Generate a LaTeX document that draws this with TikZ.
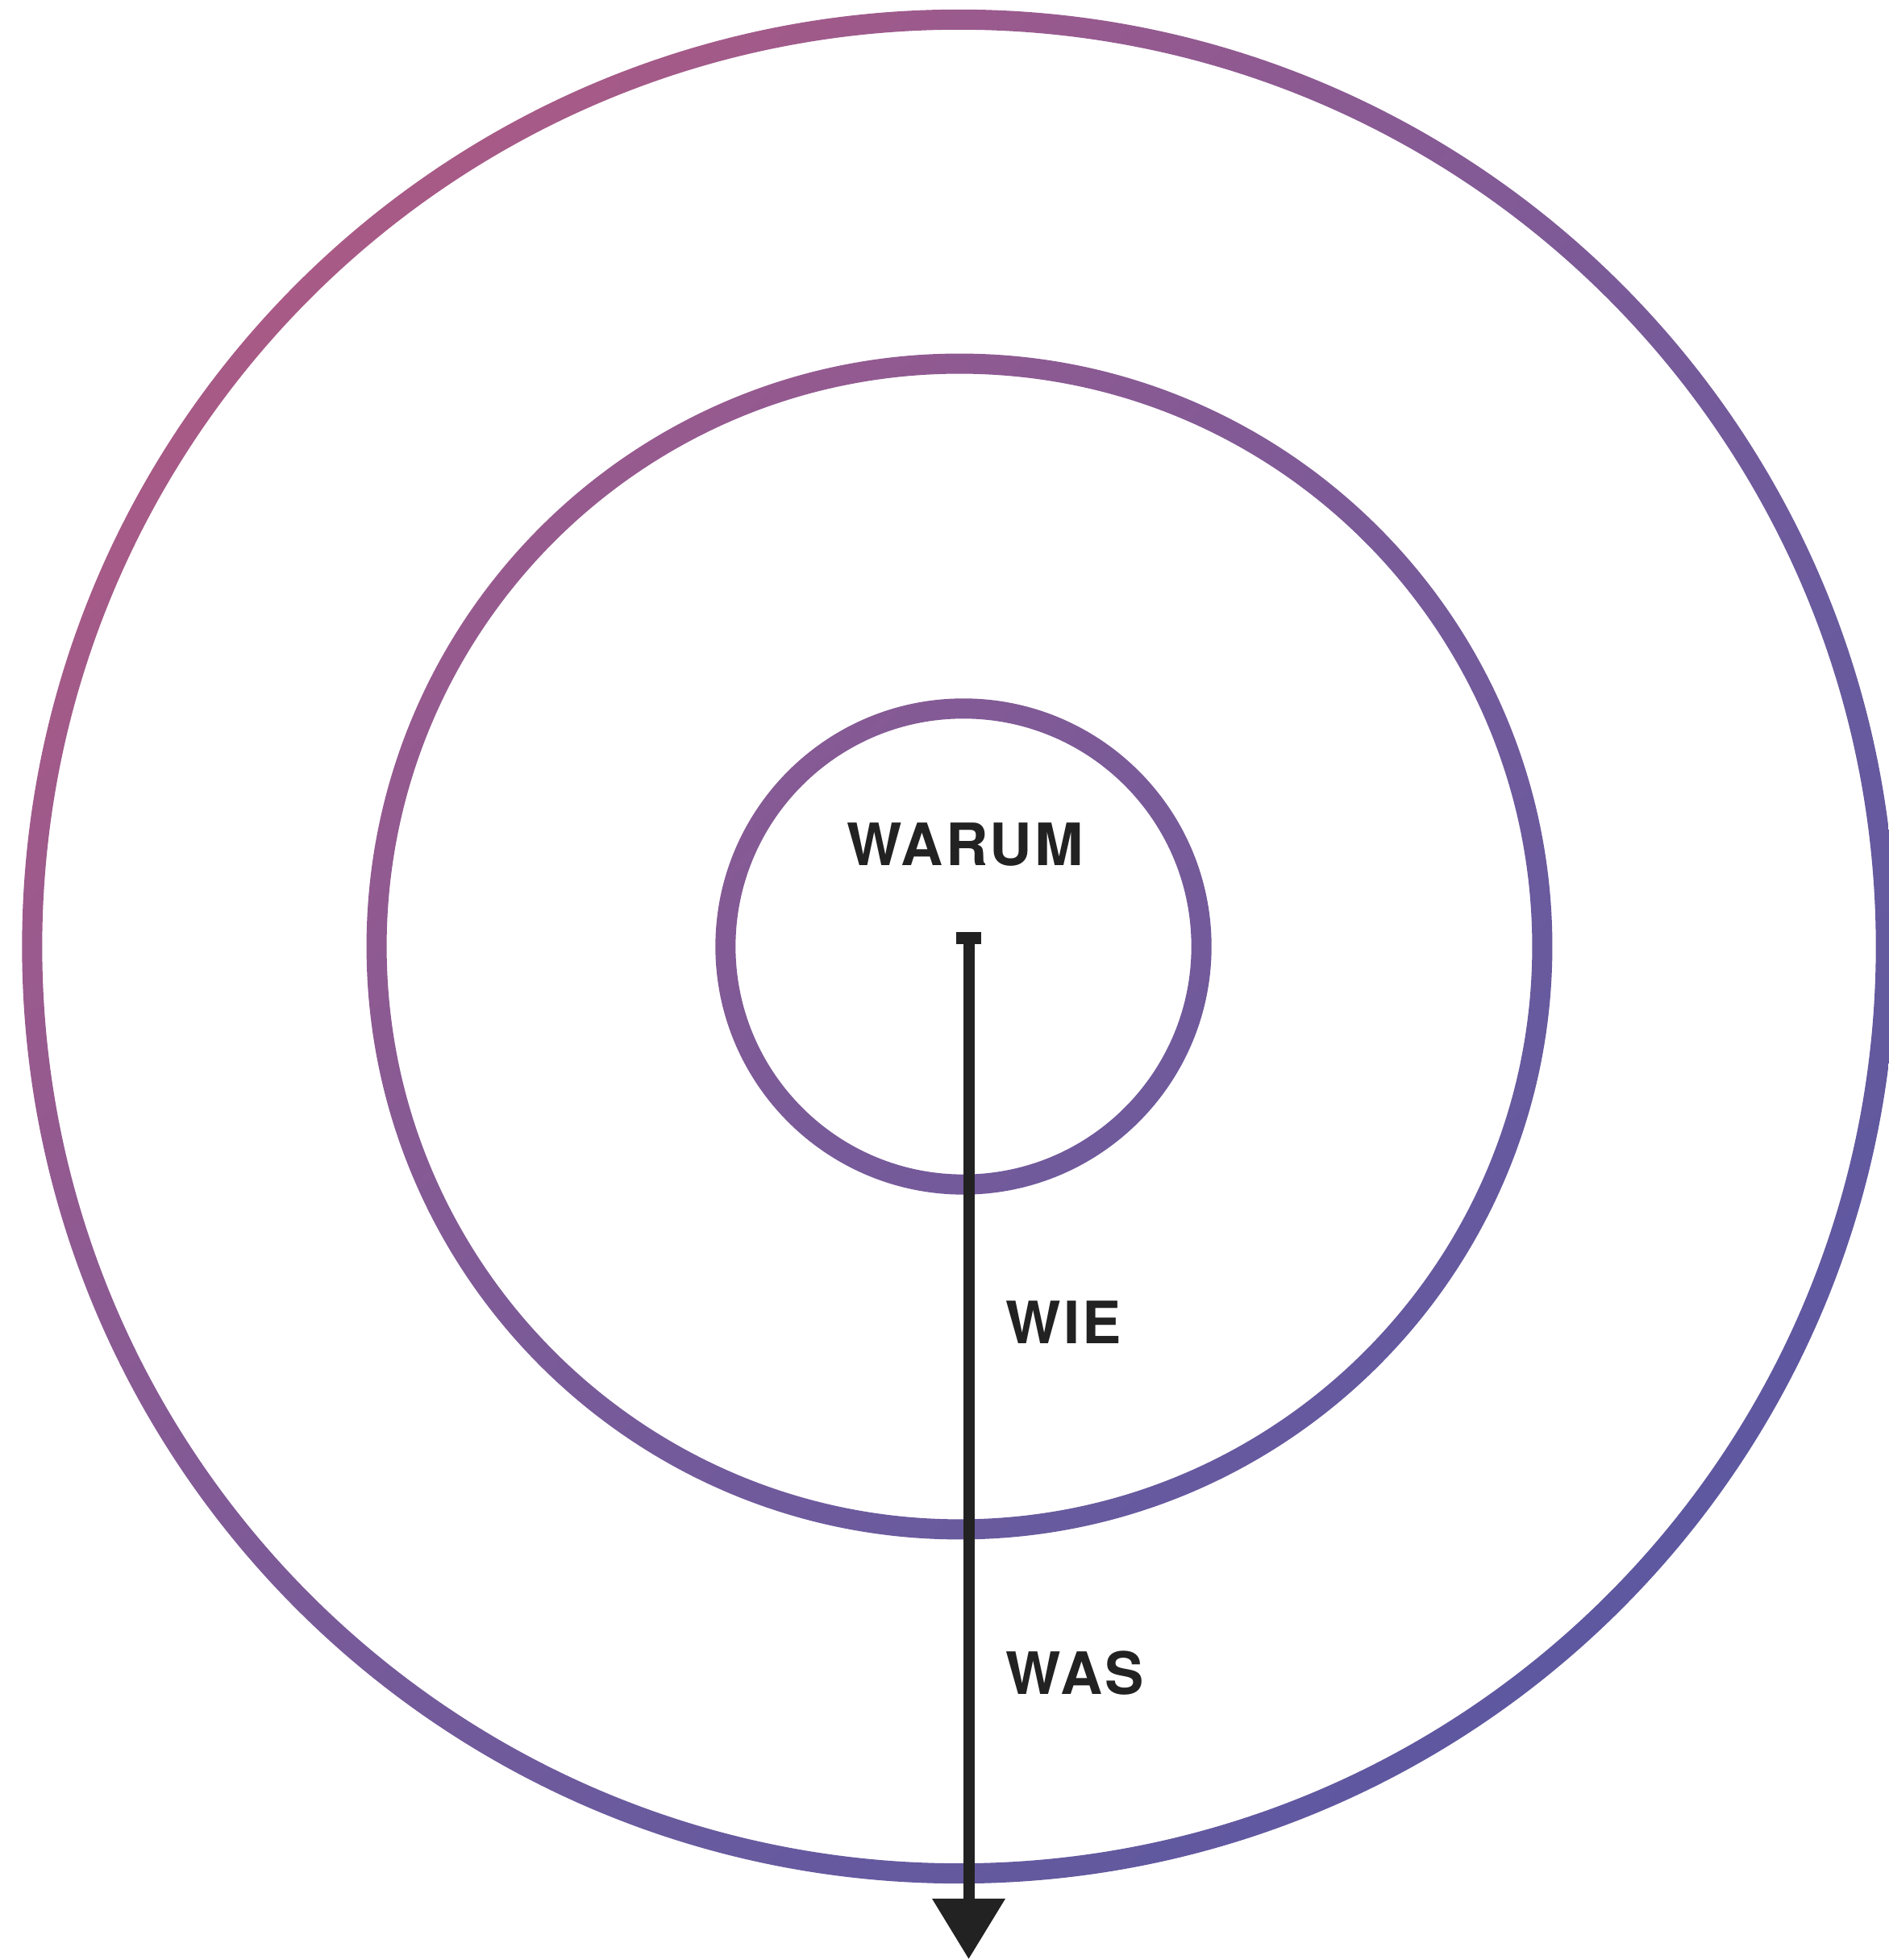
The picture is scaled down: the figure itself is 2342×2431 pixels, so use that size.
\documentclass[tikz,border=0pt]{standalone}
\usepackage{fontspec}
\setmainfont{TeX Gyre Heros}
\usetikzlibrary{arrows.meta}
\definecolor{ink}{HTML}{222222}
\definecolor{sc0}{HTML}{5856A2}
\definecolor{sc1}{HTML}{5E58A0}
\definecolor{sc2}{HTML}{6A5A9E}
\definecolor{sc3}{HTML}{7A5A98}
\definecolor{sc4}{HTML}{965A8F}
\definecolor{sc5}{HTML}{AE5A83}
\definecolor{sc6}{HTML}{BA5A7C}
\pgfdeclareverticalshading{ringshade}{100bp}{color(0bp)=(sc0); color(25bp)=(sc1); color(40bp)=(sc2); color(50bp)=(sc3); color(65bp)=(sc4); color(78bp)=(sc5); color(100bp)=(sc6)}
\begin{document}
\begin{tikzpicture}[x=0.01cm,y=0.01cm,
  word/.style={font=\fontsize{20.6pt}{24pt}\selectfont\bfseries\addfontfeatures{LetterSpace=4}, text=ink, inner sep=0pt},
  shaft/.style={draw=ink, line width=0.14cm, -{Triangle[width=0.87cm,length=0.75cm]}, color=ink}]
\useasboundingbox (0,0) rectangle (2342,2431);
\fill[white] (0,0) rectangle (2342,2431);
% three rings, one shading across all of them
\shade[shading=ringshade, shading angle=45, even odd rule]
  (1189.5,1257) circle (11.615cm) (1189.5,1257) circle (11.365cm)
  (1190,1257) circle (7.35cm) (1190,1257) circle (7.10cm)
  (1195,1257) circle (3.075cm) (1195,1257) circle (2.825cm);
% labels
\node[word] (warum) at (1197,1383) {WARUM};
\node[word, anchor=west] (wie) at (1247,791) {WIE};
\node[word, anchor=west] (was) at (1247,356) {WAS};
% arrow
\coordinate (start) at (1201.5,1262);
\coordinate (tip) at (1201.5,1);
\fill[ink] (1186,1260) rectangle (1217,1275);
\draw[shaft] (start) -- (tip);
\end{tikzpicture}
\end{document}
